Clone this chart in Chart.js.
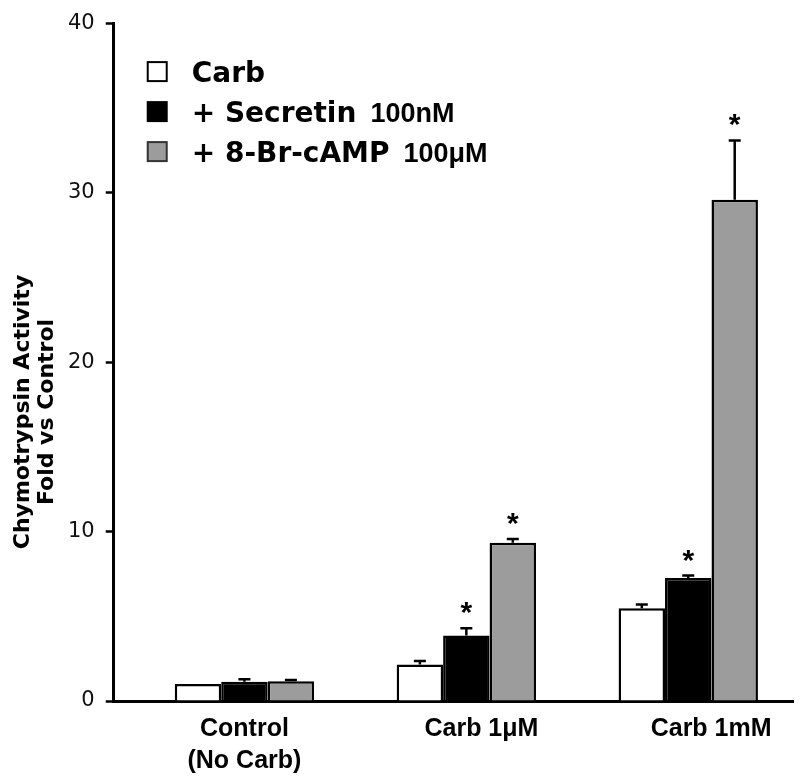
<!DOCTYPE html>
<html>
<head>
<meta charset="utf-8">
<script src="https://cdn.jsdelivr.net/npm/chart.js@4/dist/chart.umd.min.js"></script>
<style>
  html, body { margin: 0; padding: 0; background: #fff; }
  #wrap { width: 800px; height: 781px; position: relative; }
</style>
</head>
<body>
<div id="wrap"><canvas id="c"></canvas></div>
<script>
// ---- data ----
const categories = [['Control', '(No Carb)'], 'Carb 1\u03BCM', 'Carb 1mM'];
const seriesNames = ['Carb', '+ Secretin', '+ 8-Br-cAMP'];
const seriesNotes = ['', '100nM', '100\u03BCM'];
const carbValues = [1.0, 2.15, 5.47];
const secretinValues = [1.14, 3.87, 7.27];
const campValues = [1.16, 9.34, 29.6];
const carbErrors = [0, 0.21, 0.23];
const secretinErrors = [0.14, 0.43, 0.14];
const campErrors = [0.08, 0.22, 3.5];
const carbSignificant = [false, false, false];
const secretinSignificant = [false, true, true];
const campSignificant = [false, true, true];
const yTickValues = [0, 10, 20, 30, 40];
const yTitleLines = ['Chymotrypsin Activity', 'Fold vs Control'];

// ---- presentation ----
const colors = ['#ffffff', '#000000', '#9c9c9c'];
const legendBorders = ['#000000', '#000000', '#333333'];
const labelShift = [0, 0.068, 0.103];

const seriesValues = [carbValues, secretinValues, campValues];
const seriesErrors = [carbErrors, secretinErrors, campErrors];
const seriesSig = [carbSignificant, secretinSignificant, campSignificant];

const datasets = seriesNames.map((name, s) => ({
  label: name,
  data: seriesValues[s].map((v, i) => ({ x: i, y: v })),
  backgroundColor: colors[s],
  borderColor: '#000',
  borderWidth: 2.5,
  errors: seriesErrors[s],
  significant: seriesSig[s],
  categoryPercentage: 0.628,
  barPercentage: 1.0
}));

const overlay = {
  id: 'overlay',
  afterDatasetsDraw(chart) {
    const ctx = chart.ctx;
    const y = chart.scales.y;
    ctx.save();
    chart.data.datasets.forEach((ds, di) => {
      const meta = chart.getDatasetMeta(di);
      meta.data.forEach((bar, i) => {
        const err = ds.errors[i];
        const v = ds.data[i].y;
        const topPx = y.getPixelForValue(v + err);
        if (err > 0) {
          ctx.strokeStyle = '#000';
          ctx.lineWidth = 2.5;
          ctx.beginPath();
          ctx.moveTo(bar.x, bar.y);
          ctx.lineTo(bar.x, topPx);
          ctx.moveTo(bar.x - 6, topPx);
          ctx.lineTo(bar.x + 6, topPx);
          ctx.stroke();
        }
        if (ds.significant[i]) {
          ctx.fillStyle = '#000';
          ctx.font = 'bold 30px "Liberation Sans"';
          ctx.textAlign = 'center';
          ctx.textBaseline = 'alphabetic';
          const m = ctx.measureText('*');
          const asc = m.actualBoundingBoxAscent, desc = m.actualBoundingBoxDescent;
          const cy = topPx - 20;
          ctx.fillText('*', bar.x, cy + (asc + desc) / 2 - desc);
        }
      });
    });
    ctx.restore();
  },
  afterDraw(chart) {
    const ctx = chart.ctx;
    const area = chart.chartArea;
    ctx.save();
    // y axis title (two lines, rotated)
    ctx.fillStyle = '#000';
    ctx.font = 'bold 22px "DejaVu Sans"';
    ctx.textAlign = 'center';
    ctx.textBaseline = 'middle';
    const titleX = [area.left - 90, area.left - 66];
    yTitleLines.forEach((t, k) => {
      ctx.save();
      ctx.translate(titleX[k], 412);
      ctx.rotate(-Math.PI / 2);
      ctx.fillText(t, 0, 0);
      ctx.restore();
    });
    // legend
    const boxX = area.left + 34;
    const rowY = [area.top + 48, area.top + 88, area.top + 128];
    seriesNames.forEach((name, s) => {
      const cy = rowY[s];
      ctx.fillStyle = colors[s];
      ctx.fillRect(boxX, cy - 9.5, 19, 19);
      ctx.strokeStyle = legendBorders[s];
      ctx.lineWidth = 2;
      ctx.strokeRect(boxX, cy - 9.5, 19, 19);
      ctx.fillStyle = '#000';
      ctx.textAlign = 'left';
      ctx.textBaseline = 'alphabetic';
      ctx.font = 'bold 28px "DejaVu Sans"';
      const base = cy + 10;
      ctx.fillText(name, boxX + 44, base);
      const w = ctx.measureText(name).width;
      if (seriesNotes[s]) {
        ctx.font = 'bold 27px "Liberation Sans"';
        ctx.fillText(seriesNotes[s], boxX + 44 + w + 14, base);
      }
    });
    ctx.restore();
  }
};

new Chart(document.getElementById('c'), {
  type: 'bar',
  data: { datasets },
  options: {
    responsive: true,
    maintainAspectRatio: false,
    animation: false,
    layout: { padding: { left: 57, top: 23, right: 7, bottom: 0 } },
    plugins: { legend: { display: false }, tooltip: { enabled: false } },
    scales: {
      x: {
        type: 'linear',
        offset: false,
        min: -0.589,
        max: 2.472,
        afterBuildTicks: (axis) => { axis.ticks = categories.map((c, i) => ({ value: i + labelShift[i] })); },
        ticks: {
          callback: (v, i) => categories[i],
          font: { family: 'Liberation Sans', weight: 'bold', size: 25, lineHeight: 1.28 },
          color: '#000',
          padding: 4,
          maxRotation: 0,
          autoSkip: false
        },
        grid: { display: false, offset: false },
        border: { display: true, width: 3, color: '#000' }
      },
      y: {
        min: 0,
        max: 40,
        afterBuildTicks: (axis) => { axis.ticks = yTickValues.map(v => ({ value: v })); },
        ticks: {
          font: { family: 'DejaVu Sans', size: 21 },
          color: '#111',
          padding: 11
        },
        grid: { drawOnChartArea: false, drawTicks: true, tickLength: 8, tickWidth: 2.5, tickColor: '#000' },
        border: { display: true, width: 3, color: '#000' }
      }
    }
  },
  plugins: [overlay]
});
</script>
</body>
</html>
